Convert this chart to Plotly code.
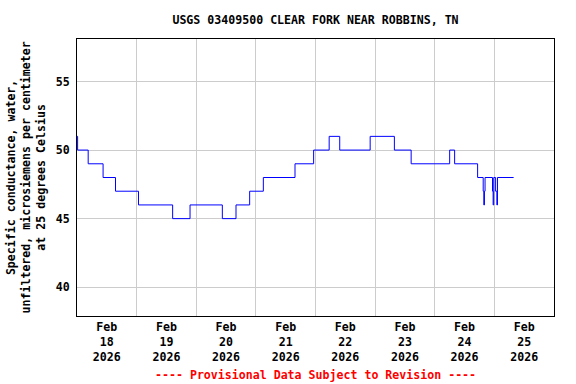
import plotly.graph_objects as go

# Step data: time of change -> value held until next change (uS/cm @ 25C)
times = [
    "2026-02-18 00:00", "2026-02-18 00:15", "2026-02-18 04:30", "2026-02-18 10:30",
    "2026-02-18 15:30", "2026-02-19 00:45", "2026-02-19 14:30", "2026-02-19 21:30",
    "2026-02-20 10:30", "2026-02-20 16:00", "2026-02-20 21:30", "2026-02-21 03:00",
    "2026-02-21 15:45", "2026-02-21 23:15", "2026-02-22 05:30", "2026-02-22 09:45",
    "2026-02-22 22:00", "2026-02-23 07:45", "2026-02-23 14:30", "2026-02-24 06:00",
    "2026-02-24 08:00", "2026-02-24 17:15", "2026-02-24 19:30", "2026-02-24 19:45",
    "2026-02-24 20:00", "2026-02-24 20:15", "2026-02-24 23:15", "2026-02-24 23:30",
    "2026-02-24 23:45", "2026-02-25 00:30", "2026-02-25 01:00", "2026-02-25 01:15",
    "2026-02-25 07:45",
]
values = [
    51, 50, 49, 48,
    47, 46, 45, 46,
    45, 46, 47, 48,
    49, 50, 51, 50,
    51, 50, 49, 50,
    49, 48, 47, 46,
    47, 48, 47, 46,
    48, 47, 46, 48,
    48,
]

tick_dates = ["2026-02-18 12:00", "2026-02-19 12:00", "2026-02-20 12:00", "2026-02-21 12:00",
              "2026-02-22 12:00", "2026-02-23 12:00", "2026-02-24 12:00", "2026-02-25 12:00"]
tick_labels = ["Feb<br>18<br>2026", "Feb<br>19<br>2026", "Feb<br>20<br>2026", "Feb<br>21<br>2026",
               "Feb<br>22<br>2026", "Feb<br>23<br>2026", "Feb<br>24<br>2026", "Feb<br>25<br>2026"]
grid_dates = ["2026-02-18", "2026-02-19", "2026-02-20", "2026-02-21", "2026-02-22",
              "2026-02-23", "2026-02-24", "2026-02-25"]
y_ticks = [40, 45, 50, 55]

title = "USGS 03409500 CLEAR FORK NEAR ROBBINS, TN"
y_title = "Specific conductance, water,<br>unfiltered, microsiemens per centimeter<br>at 25 degrees Celsius"
footer = "---- Provisional Data Subject to Revision ----"

FONT = "DejaVu Sans Mono"
FS = 11.6

fig = go.Figure()
fig.add_trace(go.Scatter(
    x=times, y=values, mode="lines", line=dict(color="#0000ff", width=1, shape="hv"),
    hoverinfo="skip", showlegend=False,
))

fig.update_layout(
    width=576, height=384,
    margin=dict(l=77, r=22, t=39, b=68),
    paper_bgcolor="white", plot_bgcolor="white",
    font=dict(family=FONT, size=FS, color="black", weight="bold"),
    title=dict(text=title, x=0.5, xref="paper", xanchor="center", y=1 - 20 / 384, yanchor="middle",
               font=dict(family=FONT, size=FS, color="black", weight="bold")),
    showlegend=False,
)
fig.update_xaxes(
    type="date", range=["2026-02-18 00:00", "2026-02-26 00:00"],
    tickmode="array", tickvals=tick_dates, ticktext=tick_labels,
    showgrid=False, ticks="", showline=True, linecolor="black", linewidth=1, mirror=True,
    zeroline=False,
    minor=dict(tickmode="array", tickvals=grid_dates, showgrid=True, gridcolor="#cccccc",
               gridwidth=1, ticks=""),
    tickfont=dict(family=FONT, size=FS, color="black", weight="bold"),
)
fig.update_yaxes(
    range=[37.9, 58.1], tickmode="array", tickvals=y_ticks,
    showgrid=True, gridcolor="#cccccc", gridwidth=1, ticks="",
    showline=True, linecolor="black", linewidth=1, mirror=True, zeroline=False,
    tickfont=dict(family=FONT, size=FS, color="black", weight="bold"),
    ticklabelstandoff=4,
)
fig.add_annotation(
    text=y_title, xref="paper", yref="paper", x=-52 / 477, y=0.5,
    xanchor="center", yanchor="middle", textangle=-90, showarrow=False,
    font=dict(family=FONT, size=FS, color="black", weight="bold"),
)
fig.add_annotation(
    text=footer, xref="paper", yref="paper", x=0.5, y=-(375 - 316) / 277,
    xanchor="center", yanchor="middle", showarrow=False,
    font=dict(family=FONT, size=FS, color="red", weight="bold"),
)

fig.write_html("out.html", config={"displayModeBar": False},
               post_script="document.body.style.margin='0px';")
